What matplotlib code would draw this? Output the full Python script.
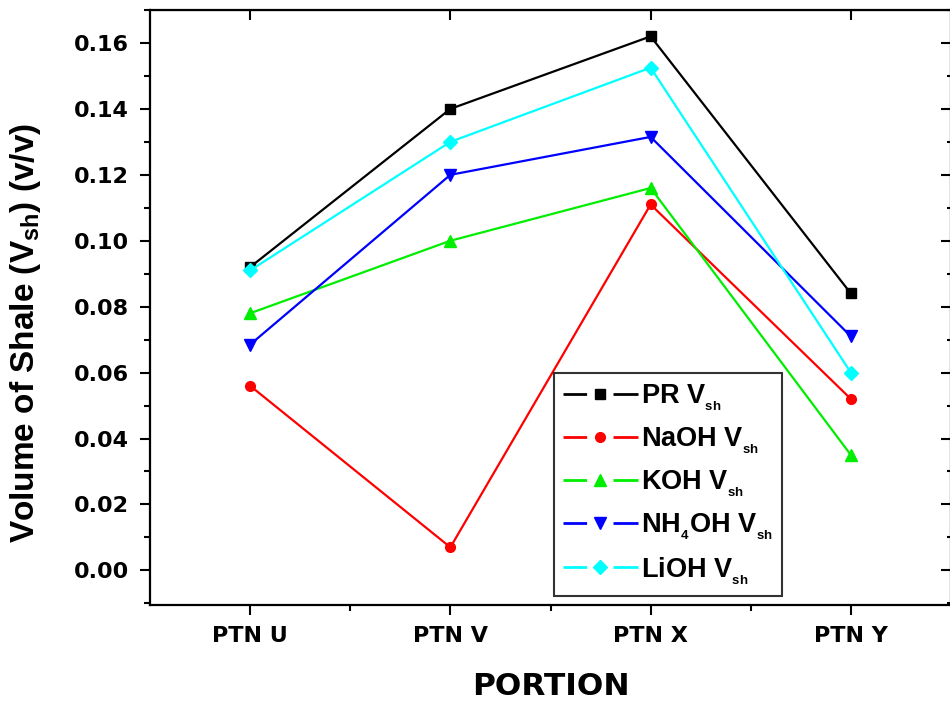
import matplotlib
matplotlib.use("Agg")
import matplotlib.pyplot as plt
from matplotlib.lines import Line2D
from matplotlib.ticker import MultipleLocator, FixedLocator, NullFormatter, FormatStrFormatter

plt.rcParams['font.family'] = ['Liberation Sans', 'DejaVu Sans']
plt.rcParams['font.weight'] = 'bold'
plt.rcParams['mathtext.fontset'] = 'custom'
plt.rcParams['mathtext.rm'] = 'Liberation Sans:bold'
plt.rcParams['mathtext.bf'] = 'Liberation Sans:bold'
plt.rcParams['mathtext.it'] = 'Liberation Sans:bold'
plt.rcParams['lines.scale_dashes'] = False

categories = ["PTN U", "PTN V", "PTN X", "PTN Y"]
pr = [0.092, 0.140, 0.162, 0.084]
naoh = [0.056, 0.007, 0.111, 0.052]
koh = [0.078, 0.100, 0.116, 0.035]
nh4oh = [0.0685, 0.120, 0.1315, 0.071]
lioh = [0.091, 0.130, 0.1525, 0.060]

sub = r"$\mathregular{V{}_{_{sh}}}$"
labels = ["PR " + sub, "NaOH " + sub, "KOH " + sub,
          r"NH$\mathregular{{}_{_4}}$OH " + sub, "LiOH " + sub]
series = [pr, naoh, koh, nh4oh, lioh]
colors = ["black", "red", "#00ee00", "blue", "cyan"]
markers = ["s", "o", "^", "v", "D"]
msizes = [7, 7, 8.5, 8.5, 7.5]

fig = plt.figure(figsize=(9.5, 7.02), dpi=100)
ax = fig.add_axes([150/950, 1-605/702, 801/950, 595/702])

x = list(range(1, len(categories)+1))
handles = []
for s, c, m, ms, lab in zip(series, colors, markers, msizes, labels):
    ax.plot(x, s, color=c, marker=m, markersize=ms, linewidth=1.6, label=lab,
            markeredgecolor=c)
    handles.append(Line2D([], [], color=c, linewidth=2.0, marker=m,
                          markersize=ms, markeredgecolor=c, markerfacecolor=c,
                          dashes=(17, 19, 20, 40)))

tickfont = dict(family='DejaVu Sans', weight='bold', size=16)

ax.set_xlim(0.5, 4.5)
ax.set_ylim(-0.0105, 0.17)
ax.set_xticks(x)
ax.set_xticklabels(categories, **tickfont)
ax.xaxis.set_minor_locator(FixedLocator([1.5, 2.5, 3.5]))
ax.yaxis.set_major_locator(MultipleLocator(0.02))
ax.yaxis.set_minor_locator(MultipleLocator(0.01))
ax.yaxis.set_major_formatter(FormatStrFormatter('%.2f'))
ax.tick_params(which='major', direction='out', length=7, width=1.5)
ax.tick_params(axis='x', which='major', pad=8)
ax.tick_params(axis='y', which='major', pad=8)
ax.tick_params(which='minor', direction='out', length=4, width=1.5)
for lab in ax.get_yticklabels():
    lab.set_fontproperties(matplotlib.font_manager.FontProperties(**tickfont))
for sp in ax.spines.values():
    sp.set_linewidth(1.6)

sx = ax.secondary_xaxis('top')
sx.set_xticks(x)
sx.xaxis.set_major_formatter(NullFormatter())
sx.tick_params(which='major', direction='in', length=7, width=1.5)
sx.tick_params(which='minor', length=0)
sy = ax.secondary_yaxis('right')
sy.yaxis.set_major_locator(MultipleLocator(0.02))
sy.yaxis.set_minor_locator(MultipleLocator(0.01))
sy.yaxis.set_major_formatter(NullFormatter())
sy.tick_params(which='major', direction='in', length=7, width=1.5)
sy.tick_params(which='minor', direction='in', length=3, width=1.5)

ax.set_xlabel("PORTION", family='DejaVu Sans', fontsize=22.5, fontweight='bold', va='top')
ax.xaxis.set_label_coords(0.5, -0.112)
ax.set_ylabel(r"Volume of Shale ($\mathregular{V_{sh}}$) (v/v)", fontsize=24, fontweight='bold')
ax.yaxis.set_label_coords(-0.133, 0.457)

leg = ax.legend(handles, labels, loc='upper left', bbox_to_anchor=(0.504, 0.39), borderaxespad=0,
                prop=dict(family='Liberation Sans', weight='bold', size=19.5),
                frameon=True, fancybox=False, edgecolor='black', borderpad=0.35,
                labelspacing=0.46, handlelength=2.75, handletextpad=0.12)
leg.get_frame().set_linewidth(1.5)

fig.savefig("out.png", dpi=100)
